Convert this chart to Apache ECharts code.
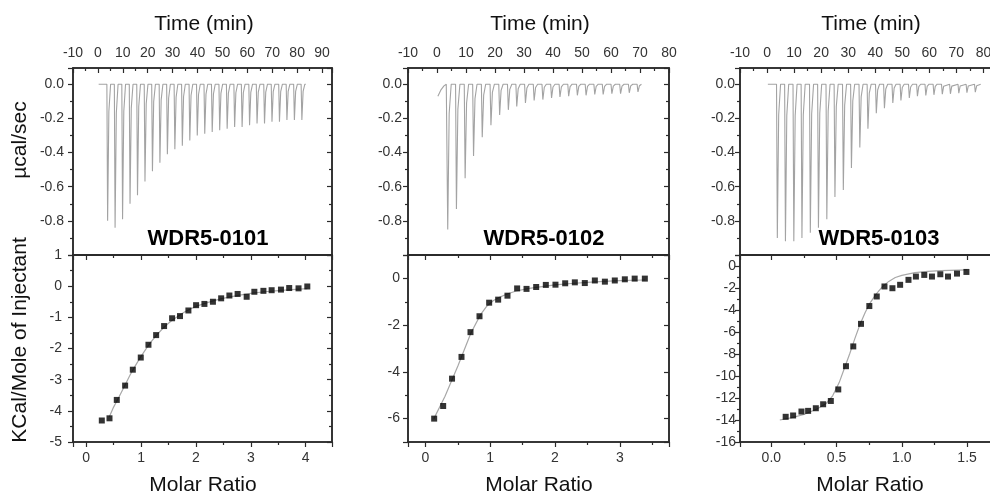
<!DOCTYPE html>
<html><head><meta charset="utf-8">
<script src="https://cdn.jsdelivr.net/npm/echarts@6/dist/echarts.min.js"></script>
<style>html,body{margin:0;padding:0;background:#fff}#c{width:990px;height:495px}</style>
</head><body><div id="c"></div>
<script>
// ---------- data ----------
// Panel 1: WDR5-0101 raw thermogram (injection time in min, peak depth in µcal/sec)
const inj1T = [3.6,6.6,9.6,12.6,15.6,18.6,21.6,24.6,27.6,30.6,33.6,36.6,39.6,42.6,45.6,48.6,51.6,54.6,57.6,60.6,63.6,66.6,69.6,72.6,75.6,78.6,81.6];
const inj1H = [-0.80,-0.84,-0.79,-0.70,-0.65,-0.57,-0.51,-0.46,-0.41,-0.38,-0.36,-0.33,-0.30,-0.29,-0.28,-0.27,-0.26,-0.25,-0.25,-0.24,-0.23,-0.23,-0.22,-0.22,-0.21,-0.21,-0.21];
const base1 = [[0.3,0]];
const end1 = 83.5;
// Panel 1 isotherm
const p1X = [0.285,0.425,0.558,0.71,0.85,0.995,1.135,1.275,1.42,1.566,1.71,1.863,2.003,2.155,2.31,2.46,2.61,2.76,2.925,3.065,3.23,3.38,3.55,3.70,3.87,4.03];
const p1Y = [-4.31,-4.24,-3.65,-3.19,-2.68,-2.29,-1.88,-1.57,-1.28,-1.03,-0.96,-0.78,-0.61,-0.57,-0.50,-0.39,-0.30,-0.25,-0.34,-0.18,-0.15,-0.13,-0.11,-0.06,-0.07,-0.01];
const fit1X = [0.42,0.5,0.6,0.7,0.8,0.9,1.0,1.1,1.2,1.3,1.4,1.5,1.6,1.7,1.8,1.9,2.0,2.15,2.3,2.45,2.6,2.8,3.0,3.25,3.5,3.75,4.03];
const fit1Y = [-4.2,-3.88,-3.55,-3.2,-2.85,-2.54,-2.25,-1.99,-1.75,-1.54,-1.35,-1.19,-1.05,-0.93,-0.82,-0.73,-0.65,-0.56,-0.48,-0.41,-0.35,-0.29,-0.23,-0.18,-0.14,-0.11,-0.08];

// Panel 2: WDR5-0102
const inj2T = [3.4,6.4,9.4,12.3,15.3,18.3,21.3,24.3,27.2,30.2,33.2,36.2,39.2,42.1,45.1,48.1,51.1,54.1,57.0,60.0,63.0,66.0,69.0];
const inj2H = [-0.85,-0.73,-0.55,-0.42,-0.31,-0.24,-0.18,-0.15,-0.13,-0.11,-0.095,-0.09,-0.08,-0.075,-0.07,-0.065,-0.065,-0.06,-0.06,-0.055,-0.055,-0.05,-0.045];
const base2 = [[0.3,-0.07],[1.3,-0.035],[2.4,-0.01],[3.2,0]];
const end2 = 70.5;
const p2X = [0.134,0.273,0.41,0.556,0.695,0.834,0.983,1.122,1.266,1.415,1.56,1.709,1.858,2.007,2.157,2.306,2.46,2.615,2.77,2.923,3.078,3.23,3.387];
const p2Y = [-6.0,-5.46,-4.29,-3.36,-2.30,-1.62,-1.04,-0.91,-0.74,-0.43,-0.45,-0.37,-0.28,-0.27,-0.21,-0.17,-0.20,-0.09,-0.14,-0.09,-0.04,-0.01,-0.01];
const fit2X = [0.13,0.3,0.5,0.7,0.85,0.95,1.05,1.15,1.25,1.4,1.6,1.8,2.0,2.25,2.5,2.75,3.0,3.2,3.39];
const fit2Y = [-6.0,-5.05,-3.75,-2.35,-1.55,-1.18,-0.95,-0.8,-0.68,-0.54,-0.43,-0.35,-0.28,-0.22,-0.17,-0.13,-0.1,-0.08,-0.07];

// Panel 3: WDR5-0103
const inj3T = [3.5,6.5,9.6,12.6,15.7,18.7,21.8,24.8,27.9,30.9,34.0,37.0,40.1,43.1,46.2,49.2,52.3,55.3,58.4,61.4,64.5,67.5,70.6,73.6,76.7];
const inj3H = [-0.90,-0.92,-0.92,-0.90,-0.87,-0.84,-0.79,-0.66,-0.62,-0.49,-0.37,-0.26,-0.17,-0.14,-0.11,-0.095,-0.08,-0.07,-0.066,-0.062,-0.058,-0.056,-0.052,-0.05,-0.047];
const base3 = [[0.3,0]];
const end3 = 79.0;
const p3X = [0.110,0.167,0.231,0.282,0.341,0.397,0.456,0.513,0.572,0.628,0.687,0.751,0.808,0.867,0.928,0.987,1.051,1.108,1.172,1.231,1.295,1.354,1.423,1.495];
const p3Y = [-13.71,-13.59,-13.23,-13.17,-12.93,-12.57,-12.27,-11.22,-9.11,-7.31,-5.26,-3.64,-2.77,-1.86,-2.02,-1.71,-1.26,-0.96,-0.81,-0.96,-0.75,-0.96,-0.69,-0.54];
const fit3X = [0.065,0.15,0.25,0.35,0.42,0.47,0.52,0.56,0.6,0.64,0.68,0.72,0.76,0.8,0.85,0.9,0.95,1.0,1.1,1.2,1.3,1.5];
const fit3Y = [-14.0,-13.8,-13.5,-13.0,-12.5,-11.8,-10.6,-9.3,-8.0,-6.6,-5.3,-4.2,-3.3,-2.6,-1.9,-1.4,-1.05,-0.85,-0.6,-0.48,-0.42,-0.35];

// Labels
const sampleNames = ['WDR5-0101','WDR5-0102','WDR5-0103'];
const topXTitle = 'Time (min)';
const botXTitle = 'Molar Ratio';
const topYTitle = 'µcal/sec';
const botYTitle = 'KCal/Mole of Injectant';

// ---------- layout / styling ----------
const FONT = 'Liberation Sans, Arial, sans-serif';
const AX = '#2b2b2b';
const TXT = '#333';
const panels = [
  {left:73,  width:259, tRange:[-10,94],   mr:[-0.24,4.48], mrInt:1,   dh:[-5,1],  dhInt:1, dhMaxLabel:true,  dhMinLabel:true,  mrFmt:v=>String(v), yLm:9, yBm:11,
   inj:inj1T, h:inj1H, base:base1, end:end1, px:p1X, py:p1Y, fx:fit1X, fy:fit1Y, nameX:208, titleX:204, mrX:203},
  {left:408, width:261, tRange:[-10,80],   mr:[-0.27,3.76], mrInt:1,   dh:[-7,1],  dhInt:2, dhMaxLabel:false, dhMinLabel:false, mrFmt:v=>String(v), yLm:6, yBm:8,
   inj:inj2T, h:inj2H, base:base2, end:end2, px:p2X, py:p2Y, fx:fit2X, fy:fit2Y, nameX:544, titleX:540, mrX:539},
  {left:740, width:261, tRange:[-10,86.5], mr:[-0.24,1.76], mrInt:0.5, dh:[-16,1], dhInt:2, dhMaxLabel:false, dhMinLabel:true,  mrFmt:v=>v.toFixed(1), yLm:5, yBm:4,
   inj:inj3T, h:inj3H, base:base3, end:end3, px:p3X, py:p3Y, fx:fit3X, fy:fit3Y, nameX:879, titleX:871, mrX:870}
];
const TOP = 68, MID = 255, BOT = 442;
const heatRange = [-1, 0.095];

function trace(base, inj, depth, end) {
  const d = base.map(p => p.slice());
  inj.forEach((t, i) => {
    d.push([t, 0], [t + 0.3, depth[i]], [t + 0.8, depth[i] * 0.2], [t + 1.5, 0]);
  });
  d.push([end, 0]);
  return d;
}
const zip = (a, b) => a.map((v, i) => [v, b[i]]);

const lbl = {fontFamily: FONT, fontSize: 14, color: TXT};
const tickStyle = {color:AX, width:1.2};
function axisBase(min, max, intv) {
  return {type:'value', min:min, max:max, minInterval:intv, maxInterval:intv,
    splitLine:{show:false}, axisLine:{show:true, onZero:false, lineStyle:{color:AX, width:1.6}}};
}
const gridStyle = {show:true, borderColor:AX, borderWidth:1.5, backgroundColor:'transparent', outerBoundsMode:'none', containLabel:false};

const grid = [], xAxis = [], yAxis = [], series = [], graphic = [];
panels.forEach((p, k) => {
  grid.push(Object.assign({left:p.left, width:p.width, top:TOP, height:MID-TOP}, gridStyle));
  grid.push(Object.assign({left:p.left, width:p.width, top:MID, height:BOT-MID}, gridStyle));
  const gT = 2*k, gB = 2*k+1;
  const tMaxLabel = Math.abs(p.tRange[1] % 10) < 1e-9;
  xAxis.push(Object.assign(axisBase(p.tRange[0], p.tRange[1], 10), {gridIndex:gT, position:'top',
    axisTick:{show:true, inside:true, length:5, lineStyle:tickStyle},
    minorTick:{show:true, splitNumber:2, length:3, lineStyle:tickStyle},
    axisLabel:Object.assign({margin:8, showMinLabel:true, showMaxLabel:tMaxLabel}, lbl)}));
  xAxis.push(Object.assign(axisBase(p.tRange[0], p.tRange[1], 10), {gridIndex:gT, position:'bottom',
    axisTick:{show:false}, axisLabel:{show:false}}));
  xAxis.push(Object.assign(axisBase(p.mr[0], p.mr[1], p.mrInt), {gridIndex:gB, position:'bottom',
    axisTick:{show:true, inside:false, length:5, lineStyle:tickStyle},
    minorTick:{show:true, splitNumber:2, length:3, lineStyle:tickStyle},
    axisLabel:Object.assign({margin:9, showMinLabel:false, showMaxLabel:false, formatter:p.mrFmt}, lbl)}));
  xAxis.push(Object.assign(axisBase(p.mr[0], p.mr[1], p.mrInt), {gridIndex:gB, position:'top',
    axisTick:{show:true, inside:true, length:5, lineStyle:tickStyle},
    minorTick:{show:true, splitNumber:2, length:3, lineStyle:tickStyle},
    axisLabel:{show:false}}));
  yAxis.push(Object.assign(axisBase(heatRange[0], heatRange[1], 0.2), {gridIndex:gT, position:'left',
    axisTick:{show:true, inside:false, length:5, lineStyle:tickStyle},
    minorTick:{show:true, splitNumber:2, length:3, lineStyle:tickStyle},
    axisLabel:Object.assign({margin:p.yLm, showMinLabel:false, showMaxLabel:false, formatter:v=>v.toFixed(1)}, lbl)}));
  yAxis.push(Object.assign(axisBase(heatRange[0], heatRange[1], 0.2), {gridIndex:gT, position:'right',
    axisTick:{show:true, inside:true, length:5, lineStyle:tickStyle},
    minorTick:{show:true, splitNumber:2, length:3, lineStyle:tickStyle},
    axisLabel:{show:false}}));
  yAxis.push(Object.assign(axisBase(p.dh[0], p.dh[1], p.dhInt), {gridIndex:gB, position:'left',
    axisTick:{show:true, inside:false, length:5, lineStyle:tickStyle},
    minorTick:{show:true, splitNumber:2, length:3, lineStyle:tickStyle},
    axisLabel:Object.assign({margin:p.yBm, showMinLabel:p.dhMinLabel, showMaxLabel:p.dhMaxLabel}, lbl)}));
  yAxis.push(Object.assign(axisBase(p.dh[0], p.dh[1], p.dhInt), {gridIndex:gB, position:'right',
    axisTick:{show:true, inside:true, length:5, lineStyle:tickStyle},
    minorTick:{show:true, splitNumber:2, length:3, lineStyle:tickStyle},
    axisLabel:{show:false}}));

  series.push({type:'line', xAxisIndex:4*k, yAxisIndex:4*k, data:trace(p.base, p.inj, p.h, p.end),
    showSymbol:false, symbol:'none', lineStyle:{color:'#a3a3a3', width:1.1}, z:2, silent:true});
  series.push({type:'line', xAxisIndex:4*k+2, yAxisIndex:4*k+2, data:zip(p.fx, p.fy),
    showSymbol:false, symbol:'none', smooth:false, lineStyle:{color:'#a8a8a8', width:1.2}, z:2, silent:true});
  series.push({type:'scatter', xAxisIndex:4*k+2, yAxisIndex:4*k+2, data:zip(p.px, p.py),
    symbol:'rect', symbolSize:6, itemStyle:{color:'#000'}, z:3, silent:true});

  graphic.push({type:'text', x:p.titleX, y:24, style:{text:topXTitle, fill:'#111', fontFamily:FONT, fontSize:21, textAlign:'center', textVerticalAlign:'middle', verticalAlign:'middle'}});
  graphic.push({type:'text', x:p.mrX, y:485, style:{text:botXTitle, fill:'#111', fontFamily:FONT, fontSize:21, textAlign:'center', textVerticalAlign:'middle', verticalAlign:'middle'}});
  graphic.push({type:'text', x:p.nameX, y:239, z:10, style:{text:sampleNames[k], fill:'#000', fontFamily:FONT, fontSize:22, fontWeight:'bold', textAlign:'center', textVerticalAlign:'middle', verticalAlign:'middle'}});
});
graphic.push({type:'text', x:20, y:140, rotation:Math.PI/2, style:{text:topYTitle, fill:'#111', fontFamily:FONT, fontSize:21, textAlign:'center', textVerticalAlign:'middle', verticalAlign:'middle'}});
graphic.push({type:'text', x:20, y:340, rotation:Math.PI/2, style:{text:botYTitle, fill:'#111', fontFamily:FONT, fontSize:21, textAlign:'center', textVerticalAlign:'middle', verticalAlign:'middle'}});

const chart = echarts.init(document.getElementById('c'), null, {renderer:'canvas'});
chart.setOption({animation:false, backgroundColor:'#fff', grid, xAxis, yAxis, series, graphic});
</script></body></html>
